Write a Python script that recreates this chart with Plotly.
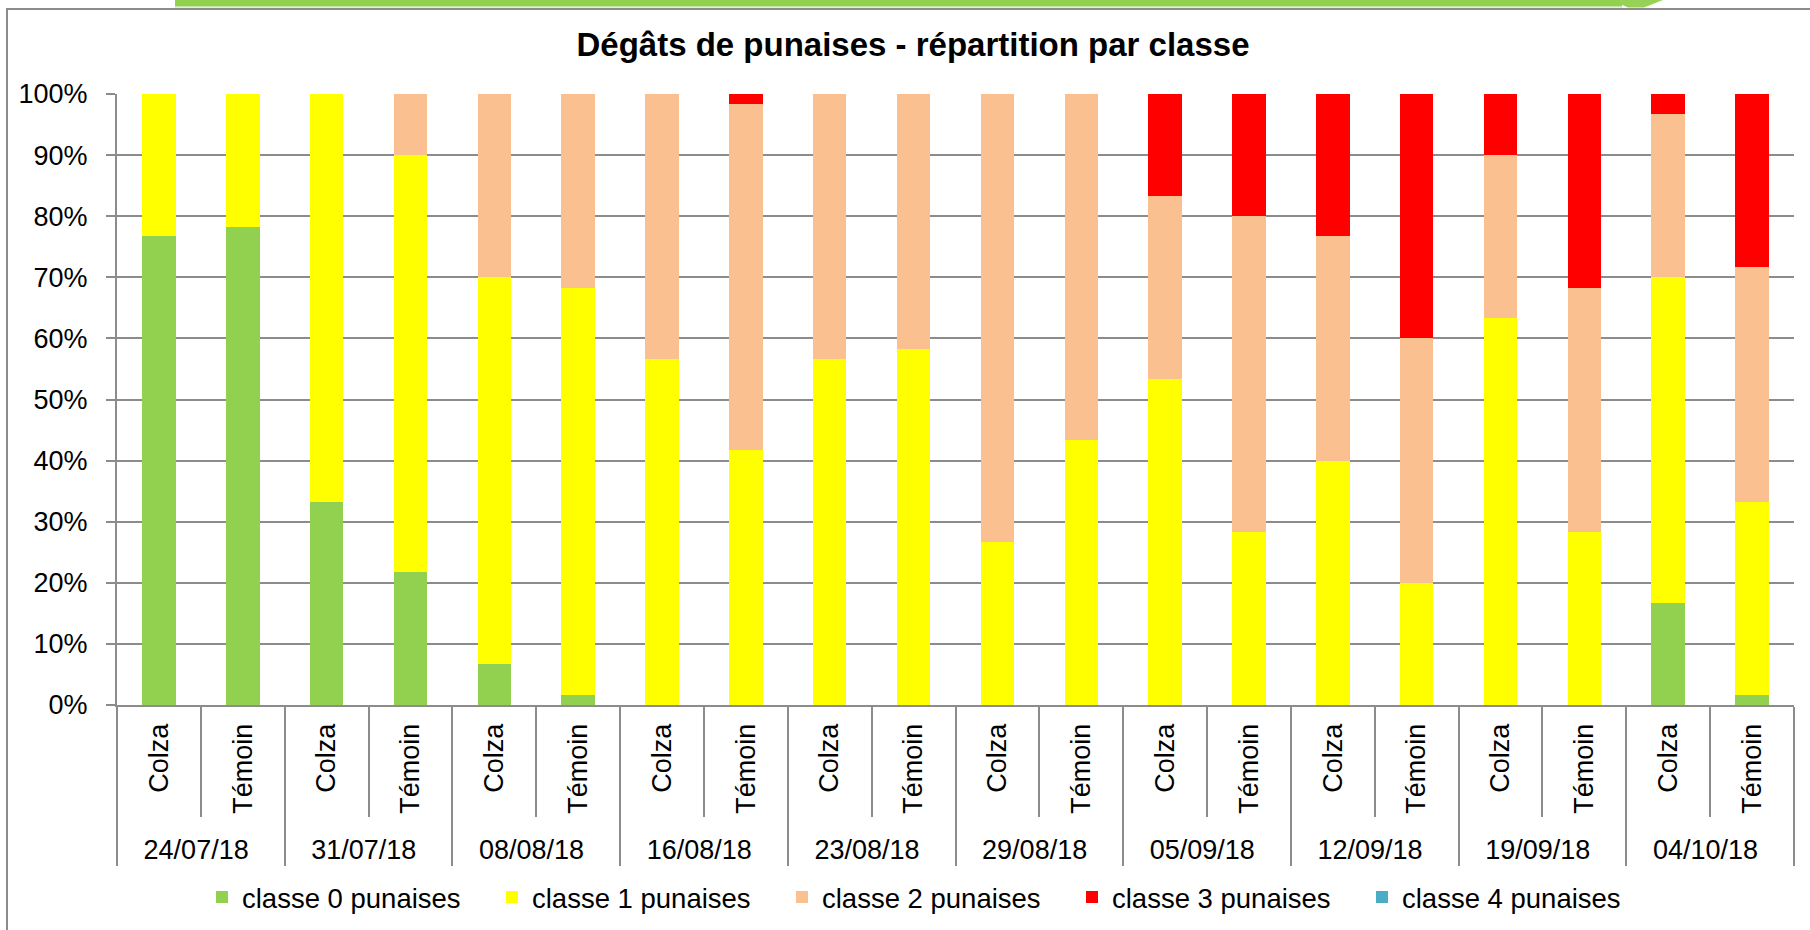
import plotly.graph_objects as go

dates = ["24/07/18", "31/07/18", "08/08/18", "16/08/18", "23/08/18",
         "29/08/18", "05/09/18", "12/09/18", "19/09/18", "04/10/18"]
types = ["Colza", "Témoin"]

series_names = ["classe 0 punaises", "classe 1 punaises", "classe 2 punaises",
                "classe 3 punaises", "classe 4 punaises"]
series_colors = ["#92D050", "#FFFF00", "#FAC090", "#FF0000", "#4BACC6"]

# percentages per bar (Colza, Témoin for each date)
classe0 = [76.7, 78.3, 33.3, 21.7, 6.7, 1.7, 0, 0, 0, 0,
           0, 0, 0, 0, 0, 0, 0, 0, 16.7, 1.7]
classe1 = [23.3, 21.7, 66.7, 68.3, 63.3, 66.6, 56.7, 41.7, 56.7, 58.3,
           26.7, 43.3, 53.3, 28.3, 40.0, 20.0, 63.3, 28.3, 53.3, 31.6]
classe2 = [0, 0, 0, 10.0, 30.0, 31.7, 43.3, 56.6, 43.3, 41.7,
           73.3, 56.7, 30.0, 51.7, 36.7, 40.0, 26.7, 40.0, 26.7, 38.4]
classe3 = [0, 0, 0, 0, 0, 0, 0, 1.7, 0, 0,
           0, 0, 16.7, 20.0, 23.3, 40.0, 10.0, 31.7, 3.3, 28.3]
classe4 = [0] * 20

values = [classe0, classe1, classe2, classe3, classe4]

x_outer = [d for d in dates for _ in types]
x_inner = [t for _ in dates for t in types]

FONT = "Liberation Sans, Arial, sans-serif"
W, H = 1810, 930
# plot area in screen pixels: x 117..1794, y 94..705
L, T = 117, 94
R = W - 1794
B = H - 705
pw, ph = W - L - R, H - T - B


def px(xs):
    """screen pixel x -> paper fraction"""
    return (xs - L) / pw


def py(ys):
    """screen pixel y -> paper fraction"""
    return (H - B - ys) / ph


fig = go.Figure()
for name, col, vals in zip(series_names, series_colors, values):
    fig.add_trace(go.Bar(
        x=[x_outer, x_inner], y=vals, name=name,
        marker=dict(color=col, line=dict(width=0)),
    ))

grid = "#8C8C8C"
shapes = [
    # chart border
    dict(type="rect", xref="paper", yref="paper",
         x0=px(7), x1=px(1816), y0=py(9), y1=py(936),
         line=dict(color=grid, width=2), fillcolor="rgba(0,0,0,0)", layer="below"),
    # decorative green band at the top
    dict(type="rect", xref="paper", yref="paper",
         x0=px(175), x1=px(1622), y0=py(-4), y1=py(6),
         line=dict(width=0), fillcolor="#92D050"),
    dict(type="rect", xref="paper", yref="paper",
         x0=px(175), x1=px(1622), y0=py(6), y1=py(7.5),
         line=dict(width=0), fillcolor="#C4E6A2"),
    dict(type="path", xref="paper", yref="paper",
         path=(f"M {px(1620)},{py(-2)} L {px(1668)},{py(-2)} "
               f"L {px(1644)},{py(7.5)} L {px(1628)},{py(7.5)} L {px(1620)},{py(4)} Z"),
         line=dict(width=0), fillcolor="#97D257"),
]

fig.update_layout(
    width=W, height=H,
    margin=dict(l=L, r=R, t=T, b=B, autoexpand=False),
    paper_bgcolor="white", plot_bgcolor="white",
    barmode="stack", bargap=0.6,
    font=dict(family=FONT, size=27, color="#000000"),
    title=dict(text="<b>Dégâts de punaises - répartition par classe</b>",
               font=dict(family=FONT, size=33, color="#000000"),
               x=913 / W, xref="container", xanchor="center",
               y=1 - 44 / H, yref="container", yanchor="middle"),
    legend=dict(orientation="h", x=px(927), xanchor="center",
                y=py(897), yanchor="middle",
                font=dict(family=FONT, size=27.5, color="#000000"),
                traceorder="normal", itemwidth=30,
                entrywidth=245, entrywidthmode="pixels"),
    showlegend=True,
    shapes=shapes,
    xaxis=dict(type="multicategory", tickangle=-90, automargin=False,
               showline=True, linecolor=grid, linewidth=2,
               ticks="outside", ticklen=110, tickcolor=grid, tickwidth=2,
               showdividers=True, dividercolor=grid, dividerwidth=2,
               ticklabelstandoff=6,
               tickfont=dict(family=FONT, size=27, color="#000000"),
               showgrid=False),
    yaxis=dict(range=[0, 100], dtick=10, ticksuffix="%", automargin=False,
               showgrid=True, gridcolor=grid, gridwidth=2,
               showline=True, linecolor=grid, linewidth=2,
               ticks="outside", ticklen=9, tickcolor=grid, tickwidth=2,
               ticklabelstandoff=13,
               tickfont=dict(family=FONT, size=27, color="#000000"),
               zeroline=False, fixedrange=True),
)

# remove the default 8px page margin so the figure fills the window exactly
fig.write_html("out.html",
               config={"displayModeBar": False},
               post_script="document.body.style.margin='0';"
                           "document.body.style.overflow='hidden';")
